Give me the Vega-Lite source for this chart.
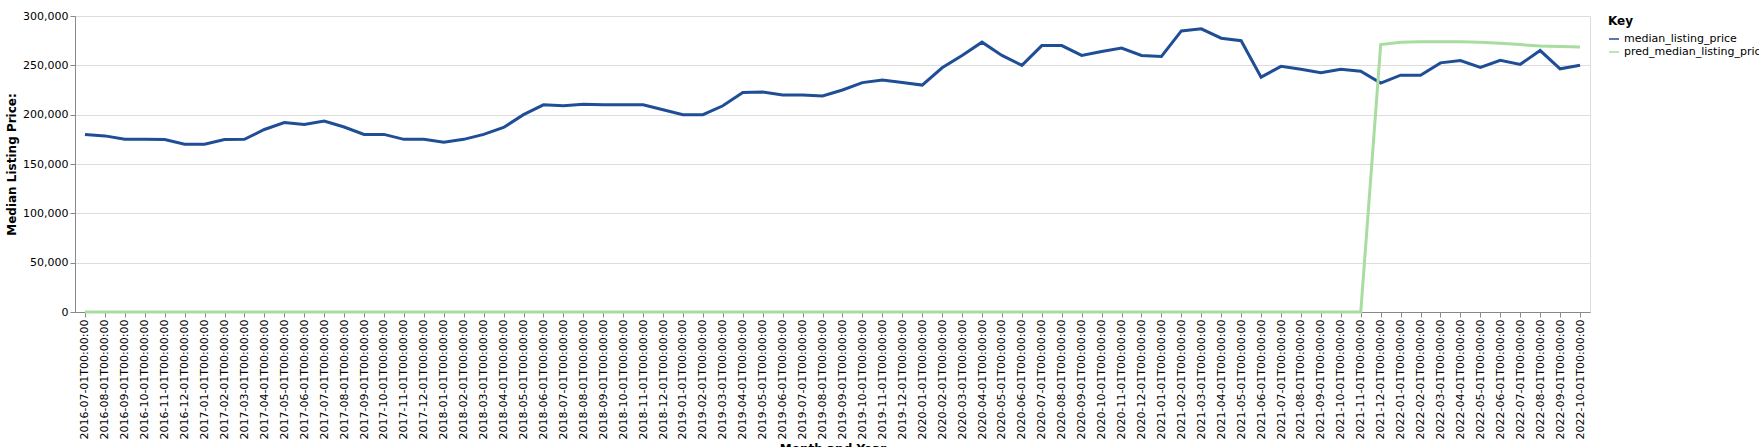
{
  "$schema": "https://vega.github.io/schema/vega-lite/v6.json",
  "width": 1515,
  "height": 296,
  "padding": {"left": 5, "top": 10, "right": 5, "bottom": 5},
  "data": {
    "values": [
      {"month": "2016-07-01T00:00:00", "median_listing_price": 180000, "pred_median_listing_price": 0},
      {"month": "2016-08-01T00:00:00", "median_listing_price": 178500, "pred_median_listing_price": 0},
      {"month": "2016-09-01T00:00:00", "median_listing_price": 175000, "pred_median_listing_price": 0},
      {"month": "2016-10-01T00:00:00", "median_listing_price": 175000, "pred_median_listing_price": 0},
      {"month": "2016-11-01T00:00:00", "median_listing_price": 174900, "pred_median_listing_price": 0},
      {"month": "2016-12-01T00:00:00", "median_listing_price": 170000, "pred_median_listing_price": 0},
      {"month": "2017-01-01T00:00:00", "median_listing_price": 170000, "pred_median_listing_price": 0},
      {"month": "2017-02-01T00:00:00", "median_listing_price": 174900, "pred_median_listing_price": 0},
      {"month": "2017-03-01T00:00:00", "median_listing_price": 175000, "pred_median_listing_price": 0},
      {"month": "2017-04-01T00:00:00", "median_listing_price": 185000, "pred_median_listing_price": 0},
      {"month": "2017-05-01T00:00:00", "median_listing_price": 192000, "pred_median_listing_price": 0},
      {"month": "2017-06-01T00:00:00", "median_listing_price": 190000, "pred_median_listing_price": 0},
      {"month": "2017-07-01T00:00:00", "median_listing_price": 193500, "pred_median_listing_price": 0},
      {"month": "2017-08-01T00:00:00", "median_listing_price": 187500, "pred_median_listing_price": 0},
      {"month": "2017-09-01T00:00:00", "median_listing_price": 180000, "pred_median_listing_price": 0},
      {"month": "2017-10-01T00:00:00", "median_listing_price": 180000, "pred_median_listing_price": 0},
      {"month": "2017-11-01T00:00:00", "median_listing_price": 175000, "pred_median_listing_price": 0},
      {"month": "2017-12-01T00:00:00", "median_listing_price": 175000, "pred_median_listing_price": 0},
      {"month": "2018-01-01T00:00:00", "median_listing_price": 172000, "pred_median_listing_price": 0},
      {"month": "2018-02-01T00:00:00", "median_listing_price": 175000, "pred_median_listing_price": 0},
      {"month": "2018-03-01T00:00:00", "median_listing_price": 180000, "pred_median_listing_price": 0},
      {"month": "2018-04-01T00:00:00", "median_listing_price": 187000, "pred_median_listing_price": 0},
      {"month": "2018-05-01T00:00:00", "median_listing_price": 200000, "pred_median_listing_price": 0},
      {"month": "2018-06-01T00:00:00", "median_listing_price": 210000, "pred_median_listing_price": 0},
      {"month": "2018-07-01T00:00:00", "median_listing_price": 209000, "pred_median_listing_price": 0},
      {"month": "2018-08-01T00:00:00", "median_listing_price": 210500, "pred_median_listing_price": 0},
      {"month": "2018-09-01T00:00:00", "median_listing_price": 210000, "pred_median_listing_price": 0},
      {"month": "2018-10-01T00:00:00", "median_listing_price": 210000, "pred_median_listing_price": 0},
      {"month": "2018-11-01T00:00:00", "median_listing_price": 210000, "pred_median_listing_price": 0},
      {"month": "2018-12-01T00:00:00", "median_listing_price": 205000, "pred_median_listing_price": 0},
      {"month": "2019-01-01T00:00:00", "median_listing_price": 200000, "pred_median_listing_price": 0},
      {"month": "2019-02-01T00:00:00", "median_listing_price": 200000, "pred_median_listing_price": 0},
      {"month": "2019-03-01T00:00:00", "median_listing_price": 209000, "pred_median_listing_price": 0},
      {"month": "2019-04-01T00:00:00", "median_listing_price": 222500, "pred_median_listing_price": 0},
      {"month": "2019-05-01T00:00:00", "median_listing_price": 222900, "pred_median_listing_price": 0},
      {"month": "2019-06-01T00:00:00", "median_listing_price": 220000, "pred_median_listing_price": 0},
      {"month": "2019-07-01T00:00:00", "median_listing_price": 219900, "pred_median_listing_price": 0},
      {"month": "2019-08-01T00:00:00", "median_listing_price": 219000, "pred_median_listing_price": 0},
      {"month": "2019-09-01T00:00:00", "median_listing_price": 225000, "pred_median_listing_price": 0},
      {"month": "2019-10-01T00:00:00", "median_listing_price": 232500, "pred_median_listing_price": 0},
      {"month": "2019-11-01T00:00:00", "median_listing_price": 235000, "pred_median_listing_price": 0},
      {"month": "2019-12-01T00:00:00", "median_listing_price": 232500, "pred_median_listing_price": 0},
      {"month": "2020-01-01T00:00:00", "median_listing_price": 230000, "pred_median_listing_price": 0},
      {"month": "2020-02-01T00:00:00", "median_listing_price": 247500, "pred_median_listing_price": 0},
      {"month": "2020-03-01T00:00:00", "median_listing_price": 260000, "pred_median_listing_price": 0},
      {"month": "2020-04-01T00:00:00", "median_listing_price": 273500, "pred_median_listing_price": 0},
      {"month": "2020-05-01T00:00:00", "median_listing_price": 260000, "pred_median_listing_price": 0},
      {"month": "2020-06-01T00:00:00", "median_listing_price": 250000, "pred_median_listing_price": 0},
      {"month": "2020-07-01T00:00:00", "median_listing_price": 270000, "pred_median_listing_price": 0},
      {"month": "2020-08-01T00:00:00", "median_listing_price": 270000, "pred_median_listing_price": 0},
      {"month": "2020-09-01T00:00:00", "median_listing_price": 260000, "pred_median_listing_price": 0},
      {"month": "2020-10-01T00:00:00", "median_listing_price": 264000, "pred_median_listing_price": 0},
      {"month": "2020-11-01T00:00:00", "median_listing_price": 267500, "pred_median_listing_price": 0},
      {"month": "2020-12-01T00:00:00", "median_listing_price": 260000, "pred_median_listing_price": 0},
      {"month": "2021-01-01T00:00:00", "median_listing_price": 259000, "pred_median_listing_price": 0},
      {"month": "2021-02-01T00:00:00", "median_listing_price": 284900, "pred_median_listing_price": 0},
      {"month": "2021-03-01T00:00:00", "median_listing_price": 287000, "pred_median_listing_price": 0},
      {"month": "2021-04-01T00:00:00", "median_listing_price": 277500, "pred_median_listing_price": 0},
      {"month": "2021-05-01T00:00:00", "median_listing_price": 275000, "pred_median_listing_price": 0},
      {"month": "2021-06-01T00:00:00", "median_listing_price": 238000, "pred_median_listing_price": 0},
      {"month": "2021-07-01T00:00:00", "median_listing_price": 249000, "pred_median_listing_price": 0},
      {"month": "2021-08-01T00:00:00", "median_listing_price": 246000, "pred_median_listing_price": 0},
      {"month": "2021-09-01T00:00:00", "median_listing_price": 242500, "pred_median_listing_price": 0},
      {"month": "2021-10-01T00:00:00", "median_listing_price": 246000, "pred_median_listing_price": 0},
      {"month": "2021-11-01T00:00:00", "median_listing_price": 244000, "pred_median_listing_price": 0},
      {"month": "2021-12-01T00:00:00", "median_listing_price": 232000, "pred_median_listing_price": 271000},
      {"month": "2022-01-01T00:00:00", "median_listing_price": 240000, "pred_median_listing_price": 273500},
      {"month": "2022-02-01T00:00:00", "median_listing_price": 239900, "pred_median_listing_price": 273800},
      {"month": "2022-03-01T00:00:00", "median_listing_price": 252500, "pred_median_listing_price": 274000},
      {"month": "2022-04-01T00:00:00", "median_listing_price": 254900, "pred_median_listing_price": 273900},
      {"month": "2022-05-01T00:00:00", "median_listing_price": 248000, "pred_median_listing_price": 273500},
      {"month": "2022-06-01T00:00:00", "median_listing_price": 255000, "pred_median_listing_price": 272500},
      {"month": "2022-07-01T00:00:00", "median_listing_price": 251000, "pred_median_listing_price": 271000},
      {"month": "2022-08-01T00:00:00", "median_listing_price": 265000, "pred_median_listing_price": 269500},
      {"month": "2022-09-01T00:00:00", "median_listing_price": 246500, "pred_median_listing_price": 269000},
      {"month": "2022-10-01T00:00:00", "median_listing_price": 250000, "pred_median_listing_price": 268500}
    ]
  },
  "transform": [
    {"fold": ["median_listing_price", "pred_median_listing_price"], "as": ["Key", "price"]}
  ],
  "mark": {"type": "line", "strokeWidth": 3},
  "encoding": {
    "x": {"field": "month", "type": "ordinal", "title": "Month and Year", "axis": {"labelAngle": -90}},
    "y": {"field": "price", "type": "quantitative", "title": "Median Listing Price:", "scale": {"domain": [0, 300000]}},
    "color": {
      "field": "Key",
      "type": "nominal",
      "scale": {"domain": ["median_listing_price", "pred_median_listing_price"], "range": ["#1f4e96", "#a8dca0"]}
    }
  },
  "config": {
    "font": "DejaVu Sans",
    "axis": {"labelFontSize": 11, "titleFontSize": 12, "labelFont": "DejaVu Sans", "titleFont": "DejaVu Sans"},
    "legend": {"labelFontSize": 11, "titleFontSize": 12, "labelFont": "DejaVu Sans", "titleFont": "DejaVu Sans"}
  }
}
